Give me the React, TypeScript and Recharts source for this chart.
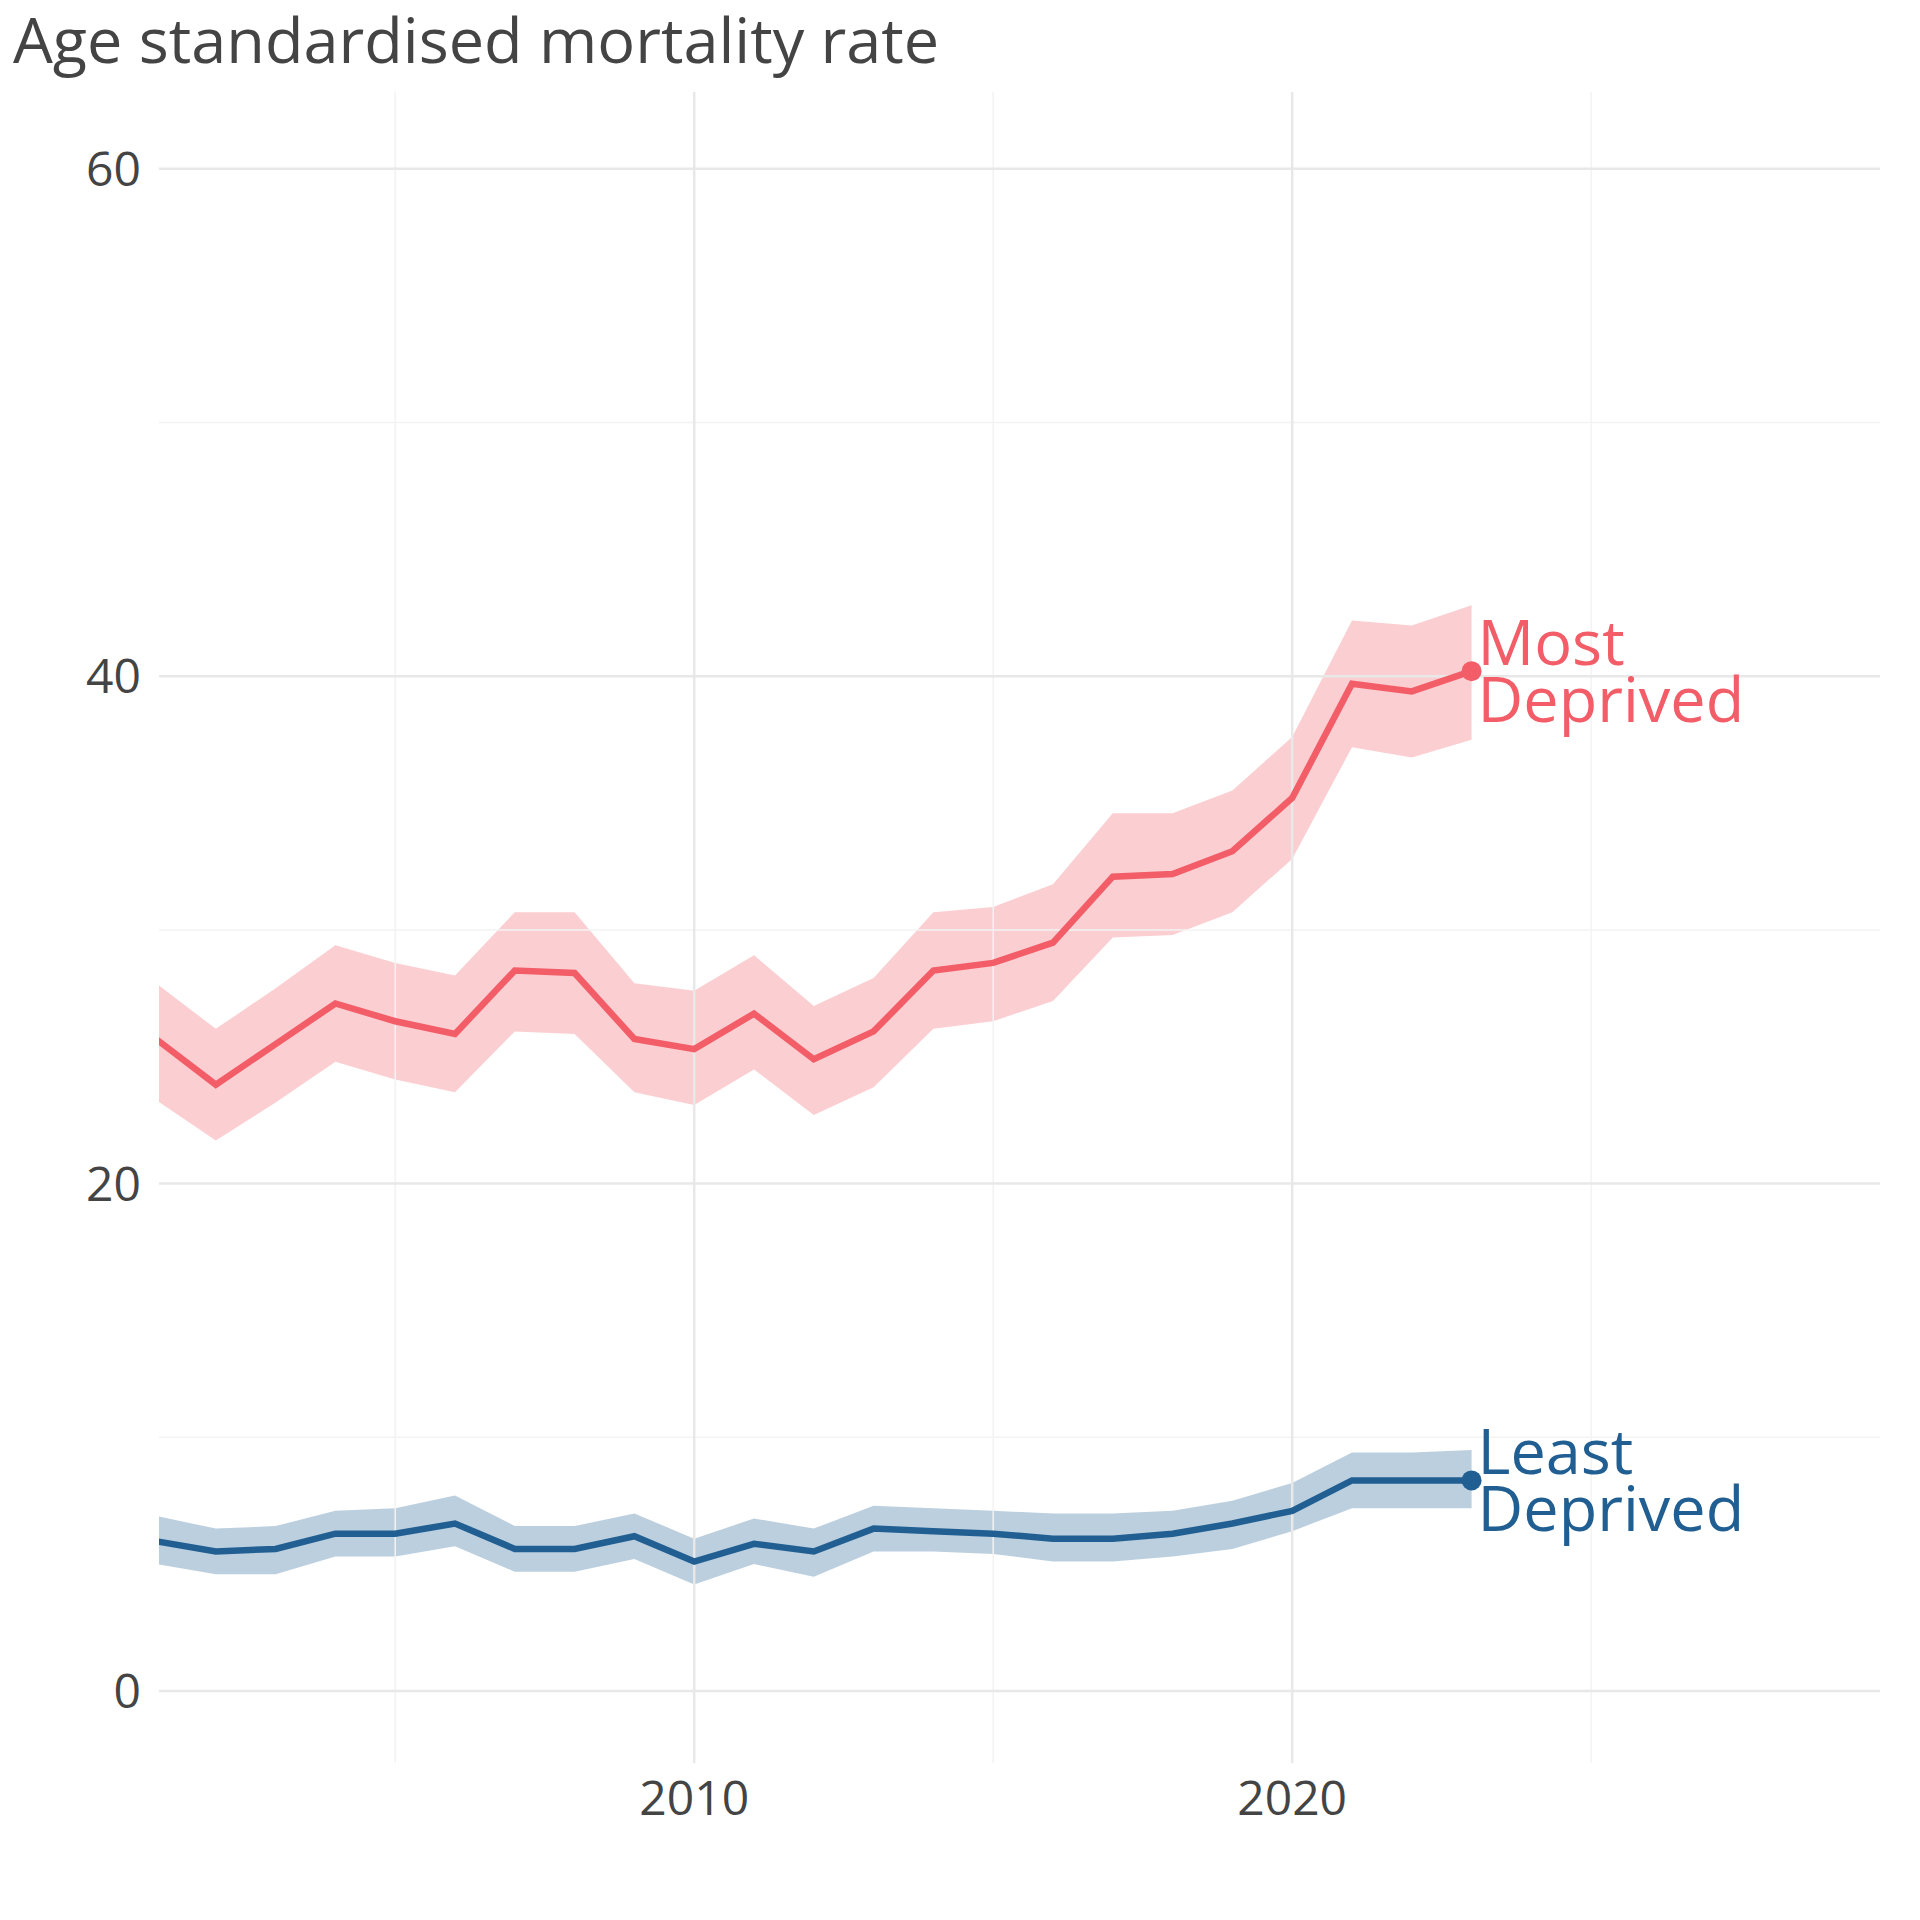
import React from "react";
import { ComposedChart, Line, Area, XAxis, YAxis, ReferenceLine } from "recharts";

const years = [2001,2002,2003,2004,2005,2006,2007,2008,2009,2010,2011,2012,2013,2014,2015,2016,2017,2018,2019,2020,2021,2022,2023];
const mostRate = [25.7,23.9,25.5,27.1,26.4,25.9,28.4,28.3,25.7,25.3,26.7,24.9,26.0,28.4,28.7,29.5,32.1,32.2,33.1,35.2,39.7,39.4,40.2];
const mostUpper = [27.9,26.1,27.7,29.4,28.7,28.2,30.7,30.7,27.9,27.6,29.0,27.0,28.1,30.7,30.9,31.8,34.6,34.6,35.5,37.6,42.2,42.0,42.8];
const mostLower = [23.3,21.7,23.2,24.8,24.1,23.6,26.0,25.9,23.6,23.1,24.5,22.7,23.8,26.1,26.4,27.2,29.7,29.8,30.7,32.8,37.2,36.8,37.5];
const leastRate = [5.9,5.5,5.6,6.2,6.2,6.6,5.6,5.6,6.1,5.1,5.8,5.5,6.4,6.3,6.2,6.0,6.0,6.2,6.6,7.1,8.3,8.3,8.3];
const leastUpper = [6.9,6.4,6.5,7.1,7.2,7.7,6.5,6.5,7.0,6.0,6.8,6.4,7.3,7.2,7.1,7.0,7.0,7.1,7.5,8.2,9.4,9.4,9.5];
const leastLower = [5.0,4.6,4.6,5.3,5.3,5.7,4.7,4.7,5.2,4.2,5.0,4.5,5.5,5.5,5.4,5.1,5.1,5.3,5.6,6.3,7.2,7.2,7.2];
const yTicks = [0, 20, 40, 60];
const xTicks = [2010, 2020];
const yMinor = [10, 30, 50];
const xMinor = [2005, 2015, 2025];

const data = years.map((y, i) => ({
  year: y,
  most: mostRate[i],
  mostBand: [mostLower[i], mostUpper[i]],
  least: leastRate[i],
  leastBand: [leastLower[i], leastUpper[i]],
}));

const RED = "#f25d68";
const BLUE = "#215f92";
const FONT = "'Open Sans', sans-serif";

const makeLabel = (lines: string[], color: string) => (props: any) => {
  const { x, y, index } = props;
  if (index !== data.length - 1) return null;
  return (
    <text x={x + 6} y={y - 6} fill={color} fontSize={63} fontFamily={FONT}>
      <tspan x={x + 6} dy={0}>{lines[0]}</tspan>
      <tspan x={x + 6} dy={57}>{lines[1]}</tspan>
    </text>
  );
};

const lastDot = (color: string) => (props: any) => {
  const { cx, cy, index } = props;
  if (index !== data.length - 1) return <g key={index} />;
  return <circle key={index} cx={cx} cy={cy} r={10} fill={color} />;
};

export default function App() {
  return (
    <div style={{ position: "absolute", left: 0, top: 0, width: 1920, height: 1920, background: "#fff" }}>
      <div style={{ position: "absolute", left: 13, top: -4, fontFamily: FONT, fontSize: 63, color: "#444" }}>
        Age standardised mortality rate
      </div>
      <ComposedChart width={1920} height={1920} data={data} margin={{ top: 92, right: 40, bottom: 97, left: 59 }}>
        <XAxis
          dataKey="year"
          type="number"
          domain={[2001.05, 2029.83]}
          allowDataOverflow
          ticks={xTicks}
          axisLine={false}
          tickLine={false}
          height={60}
          tick={{ fontSize: 48, fill: "#444", fontFamily: FONT }}
          tickMargin={12}
        />
        <YAxis
          type="number"
          domain={[-2.84, 63.03]}
          allowDataOverflow
          ticks={yTicks}
          axisLine={false}
          tickLine={false}
          width={100}
          tick={{ fontSize: 48, fill: "#444", fontFamily: FONT }}
          tickMargin={12}
        />
        {yMinor.map((v) => (
          <ReferenceLine key={"ym" + v} y={v} stroke="#f3f3f3" strokeWidth={1.5} />
        ))}
        {xMinor.map((v) => (
          <ReferenceLine key={"xm" + v} x={v} stroke="#f3f3f3" strokeWidth={1.5} />
        ))}
        {yTicks.map((v) => (
          <ReferenceLine key={"y" + v} y={v} stroke="#e8e8e8" strokeWidth={2.5} />
        ))}
        {xTicks.map((v) => (
          <ReferenceLine key={"x" + v} x={v} stroke="#e8e8e8" strokeWidth={2.5} />
        ))}
        <Area dataKey="mostBand" stroke="none" fill={RED} fillOpacity={0.3} isAnimationActive={false} />
        <Area dataKey="leastBand" stroke="none" fill={BLUE} fillOpacity={0.3} isAnimationActive={false} />
        <Line dataKey="most" stroke={RED} strokeWidth={6.5} dot={lastDot(RED)} activeDot={false} isAnimationActive={false} label={makeLabel(["Most", "Deprived"], RED)} />
        <Line dataKey="least" stroke={BLUE} strokeWidth={6.5} dot={lastDot(BLUE)} activeDot={false} isAnimationActive={false} label={makeLabel(["Least", "Deprived"], BLUE)} />
      </ComposedChart>
    </div>
  );
}
